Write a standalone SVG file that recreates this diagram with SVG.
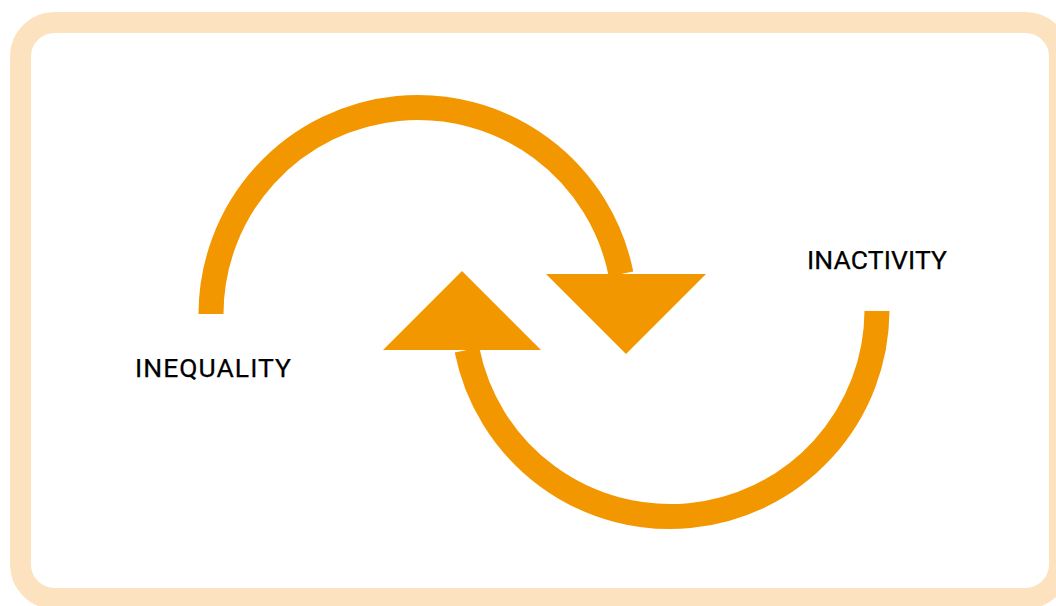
<svg xmlns="http://www.w3.org/2000/svg" width="1056" height="606" viewBox="0 0 1056 606">
  <style>
    .frame { fill: #ffffff; stroke: #FDE2C0; stroke-width: 21; }
    .arc { fill: none; stroke: #F29700; stroke-width: 25; stroke-linecap: butt; }
    .head { fill: #F29700; }
    .label { font-family: Roboto, "Liberation Sans", sans-serif; font-size: 26.5px; fill: #000000; stroke: #000000; stroke-width: 0.25; }
  </style>
  <rect width="1056" height="606" fill="#ffffff"/>
  <rect class="frame" x="20.5" y="22.5" width="1039" height="576" rx="34" ry="34"/>

  <g id="connectors">
    <!-- upper arc: inequality feeding inactivity -->
    <path class="arc" d="M 211 314 A 207 207 0 0 1 621 274"/>
    <polygon class="head" points="546,274 706,274 626,354"/>
    <!-- lower arc: inactivity feeding inequality -->
    <path class="arc" d="M 877 311 A 207 207 0 0 1 467 350"/>
    <polygon class="head" points="383,350 541,350 462,271"/>
  </g>

  <g id="inequality">
    <text class="label" x="135" y="376.5" textLength="156" lengthAdjust="spacing">INEQUALITY</text>
  </g>
  <g id="inactivity">
    <text class="label" x="807" y="268.5" textLength="140" lengthAdjust="spacing">INACTIVITY</text>
  </g>
</svg>
